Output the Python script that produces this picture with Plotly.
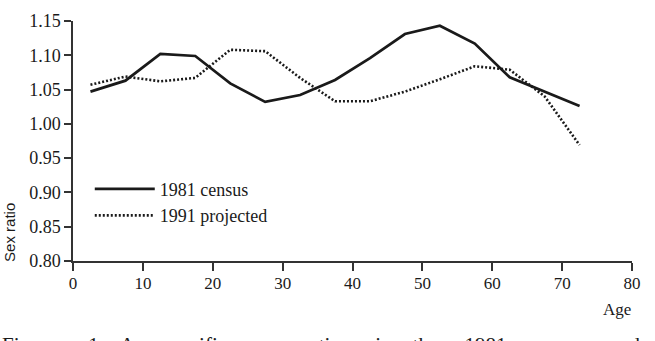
import plotly.graph_objects as go

age = [2.5, 7.5, 12.5, 17.5, 22.5, 27.5, 32.5, 37.5, 42.5, 47.5, 52.5, 57.5, 62.5, 67.5, 72.5]
census_1981 = [1.047, 1.063, 1.102, 1.099, 1.059, 1.032, 1.042, 1.064, 1.096, 1.131, 1.143, 1.117, 1.068, 1.047, 1.026]
projected_1991 = [1.057, 1.069, 1.062, 1.067, 1.108, 1.106, 1.067, 1.033, 1.033, 1.047, 1.065, 1.084, 1.079, 1.040, 0.969]
x_ticks = [0, 10, 20, 30, 40, 50, 60, 70, 80]
y_ticks = [0.80, 0.85, 0.90, 0.95, 1.00, 1.05, 1.10, 1.15]

SERIF = "Liberation Serif"
INK = "#1a1a1a"

def gap(n):
    return "&nbsp;" * n

caption_words = ["Figure", "1.", "Age-specific", "sex", "ratios", "in", "the", "1981", "census", "and"]
caption_gaps = [6, 3, 5, 4, 5, 4, 5, 5, 4]
caption = caption_words[0] + "".join(gap(g) + w for g, w in zip(caption_gaps, caption_words[1:]))

fig = go.Figure()
fig.add_trace(go.Scatter(x=age, y=census_1981, mode="lines", name="1981 census",
                         line=dict(color=INK, width=2.7)))
fig.add_trace(go.Scatter(x=age, y=projected_1991, mode="lines", name="1991 projected",
                         line=dict(color=INK, width=2.6, dash="2px,2px")))

fig.update_layout(
    width=655, height=341,
    margin=dict(l=73, r=23, t=11, b=80),
    paper_bgcolor="white", plot_bgcolor="white",
    font=dict(family=SERIF, color=INK, size=17),
    showlegend=True,
    legend=dict(x=0.03, y=0.376, xanchor="left", yanchor="top",
                bgcolor="rgba(0,0,0,0)", font=dict(family=SERIF, size=18, color=INK),
                itemwidth=60, tracegroupgap=0),
    xaxis=dict(range=[0, 80], tickvals=x_ticks, ticktext=[str(v) for v in x_ticks],
               showgrid=False, zeroline=False, showline=True, linecolor="#333", linewidth=1.5,
               ticks="outside", ticklen=8, tickwidth=1.5, tickcolor="#333",
               ticklabelstandoff=-2,
               tickfont=dict(family=SERIF, size=17, color=INK)),
    yaxis=dict(range=[0.80, 1.15], tickvals=y_ticks, ticktext=[f"{v:.2f}" for v in y_ticks],
               showgrid=False, zeroline=False, showline=True, linecolor="#333", linewidth=1.5,
               ticks="outside", ticklen=7, tickwidth=1.5, tickcolor="#333",
               tickfont=dict(family=SERIF, size=18, color=INK)),
    annotations=[
        dict(text="Age", xref="paper", yref="paper", x=0.973, y=-0.20, xanchor="center",
             yanchor="middle", showarrow=False, font=dict(family=SERIF, size=17, color=INK)),
        dict(text="Sex ratio", xref="paper", yref="paper", x=-0.115, y=0.12, xanchor="center",
             yanchor="middle", textangle=-90, showarrow=False,
             font=dict(family="Liberation Sans", size=15, color=INK)),
        dict(text=caption,
             xref="paper", yref="paper", x=-0.131, y=-0.29, xanchor="left", yanchor="top",
             showarrow=False, font=dict(family=SERIF, size=21, color=INK)),
    ],
)

fig.write_html("out.html")
